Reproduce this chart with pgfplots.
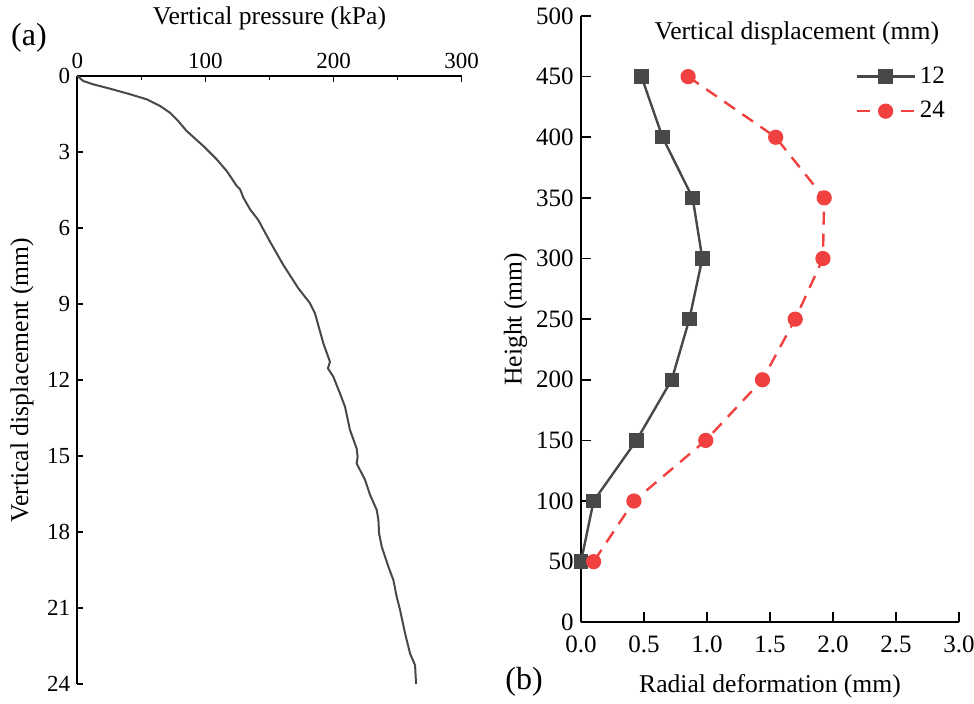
\documentclass[border=0pt]{standalone}
\usepackage{fontspec}
\setmainfont{Liberation Serif}
\usepackage{pgfplots}
\pgfplotsset{compat=1.18}
\definecolor{dgray}{RGB}{72,72,72}
\definecolor{myred}{RGB}{240,64,64}
\begin{document}
\begin{tikzpicture}
\useasboundingbox (0,0) rectangle (487pt,352pt);
\begin{axis}[
  at={(38.65pt,10pt)}, anchor=south west, scale only axis,
  width=192.2pt, height=304pt,
  xmin=0, xmax=300, ymin=0, ymax=24, y dir=reverse,
  axis x line*=top, axis y line*=left,
  axis line style={-, line width=1pt},
  xtick={0,100,200,300}, minor xtick={50,150,250},
  ytick={0,3,...,24},
  tick align=inside, major tick length=3pt, minor tick length=2pt,
  every tick/.style={black, line width=0.8pt},
  tick label style={font=\fontsize{11.5}{12}\selectfont},
  /pgf/number format/assume math mode=true,
  xlabel={Vertical pressure (kPa)}, ylabel={Vertical displacement (mm)},
  label style={font=\fontsize{12.8}{14}\selectfont},
  xlabel style={yshift=5pt},
  clip=false,
]
\addplot[dgray, line width=1pt] table {
x y
0 0
4.7 0.2
12.5 0.33
25.5 0.5
41.1 0.72
54.1 0.92
64.5 1.18
72.3 1.45
78.8 1.78
85.3 2.17
98.3 2.76
108.8 3.29
116.6 3.75
124.4 4.34
127 4.47
129.6 4.8
134.8 5.26
141.3 5.69
150.4 6.54
160.8 7.46
172.5 8.38
181.6 8.97
185.5 9.37
192 10.55
197.2 11.28
195.6 11.54
199.8 11.87
205 12.53
208.9 13.05
212.8 13.97
218 14.7
218.8 15.03
218 15.29
224.6 15.95
228.5 16.54
233.7 17.13
235 17.53
235.5 18.05
237.6 18.58
242.8 19.37
246.7 19.9
249.3 20.56
251.9 21.08
255.8 22.0
259.7 22.8
263.6 23.26
264.4 24.0
};
\end{axis}
\begin{axis}[
  at={(290.5pt,40.85pt)}, anchor=south west, scale only axis,
  width=189pt, height=303.15pt,
  xmin=0, xmax=3, ymin=0, ymax=500,
  axis x line*=bottom, axis y line*=left,
  axis line style={-, line width=1pt},
  xtick={0,0.5,...,3}, ytick={0,50,...,500},
  xticklabel style={inner sep=1pt, yshift=-5.5pt, /pgf/number format/.cd, fixed, fixed zerofill, precision=1},
  yticklabel style={inner sep=1pt, xshift=-2.5pt},
  tick align=inside, major tick length=5pt,
  every tick/.style={black, line width=0.8pt},
  tick label style={font=\fontsize{12.5}{13}\selectfont},
  /pgf/number format/assume math mode=true,
  xlabel={Radial deformation (mm)}, ylabel={Height (mm)},
  label style={font=\fontsize{12.8}{14}\selectfont},
  xlabel style={yshift=-6.5pt},
  clip=false,
  legend style={draw=none, fill=none, at={(0.99,0.93)}, anchor=north east,
    font=\fontsize{12.5}{13}\selectfont, row sep=3.5pt},
  legend cell align=left,
  legend image code/.code={\draw[mark repeat=2,mark phase=2] plot coordinates {(0pt,0pt) (14.5pt,0pt) (29pt,0pt)};},
]
\addplot[dgray, line width=1.2pt, mark=square*, mark size=3pt, mark options={solid}] table {
x y
0.48 450
0.647 400
0.886 350
0.963 300
0.86 250
0.72 200
0.44 150
0.10 100
0.0 50
};
\addlegendentry{12}
\addplot[myred, line width=1.2pt, dash pattern=on 6.5pt off 4.5pt, mark=*, mark size=3.2pt, mark options={solid}] table {
x y
0.85 450
1.545 400
1.93 350
1.92 300
1.70 250
1.44 200
0.99 150
0.42 100
0.10 50
};
\addlegendentry{24}
\node[font=\fontsize{12.8}{14}\selectfont] at (rel axis cs:0.571,0.972) {Vertical displacement (mm)};
\end{axis}
\node[font=\fontsize{16}{18}\selectfont] at (14.5pt,333pt) {(a)};
\node[font=\fontsize{16}{18}\selectfont] at (262pt,11pt) {(b)};
\end{tikzpicture}
\end{document}
